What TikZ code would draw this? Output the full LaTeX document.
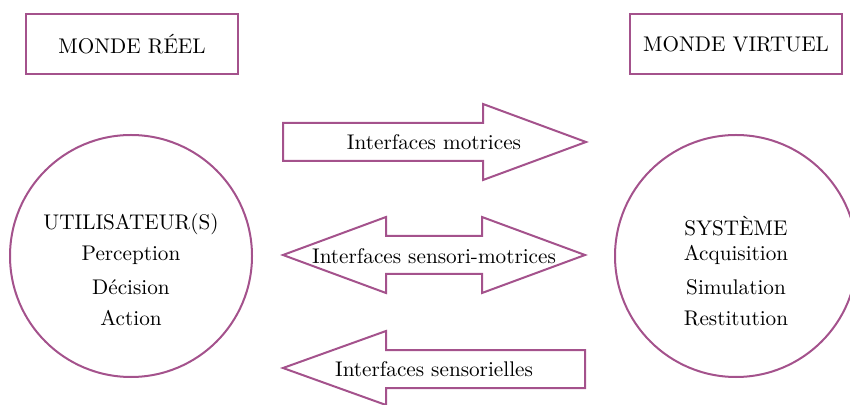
\documentclass[tikz,border=0pt]{standalone}
\usepackage{tikz}
\definecolor{plum}{RGB}{164,82,140}
\begin{document}
\begin{tikzpicture}[x=0.5pt,y=-0.5pt,
  frame/.style={draw=plum,line width=1pt},
  boxnode/.style={frame,minimum width=106pt,minimum height=30pt,inner sep=0pt},
  lbl/.style={inner sep=0pt,font=\fontsize{10.6}{12.7}\selectfont}]
\useasboundingbox (0,0) rectangle (850,405);
% boxes
\node[boxnode,font=\fontsize{10.6}{12.7}\selectfont] (reel) at (132,44) {MONDE RÉEL};
\node[boxnode,font=\fontsize{10.6}{12.7}\selectfont] (virtuel) at (736,44) {MONDE VIRTUEL};
% circles
\node[frame,circle,minimum size=121pt,inner sep=0pt] (user) at (131,256) {};
\node[frame,circle,minimum size=121pt,inner sep=0pt] (sys) at (736,256) {};
\node[lbl] (u1) at (131,224) {UTILISATEUR(S)};
\node[lbl] (u2) at (131,255) {Perception};
\node[lbl] (u3) at (131,287) {Décision};
\node[lbl] (u4) at (131,318) {Action};
\node[lbl] (s1) at (736,226) {SYSTÈME};
\node[lbl] (s2) at (736,255) {Acquisition};
\node[lbl] (s3) at (736,287) {Simulation};
\node[lbl] (s4) at (736,318) {Restitution};
% arrows
\draw[frame,line join=miter] (283,123) -- (483,123) -- (483,104) -- (586,142) -- (483,180) -- (483,161) -- (283,161) -- cycle;
\node[lbl] (motr) at (434,142) {Interfaces motrices};
\draw[frame,line join=miter] (283,255) -- (386,217) -- (386,236) -- (482,236) -- (482,217) -- (585,255) -- (482,293) -- (482,274) -- (386,274) -- (386,293) -- cycle;
\node[lbl] (senmot) at (434,256) {Interfaces sensori-motrices};
\draw[frame,line join=miter] (283,368) -- (386,331) -- (386,350) -- (585,350) -- (585,388) -- (386,388) -- (386,405) -- cycle;
\node[lbl] (sens) at (434,369) {Interfaces sensorielles};
\end{tikzpicture}
\end{document}
